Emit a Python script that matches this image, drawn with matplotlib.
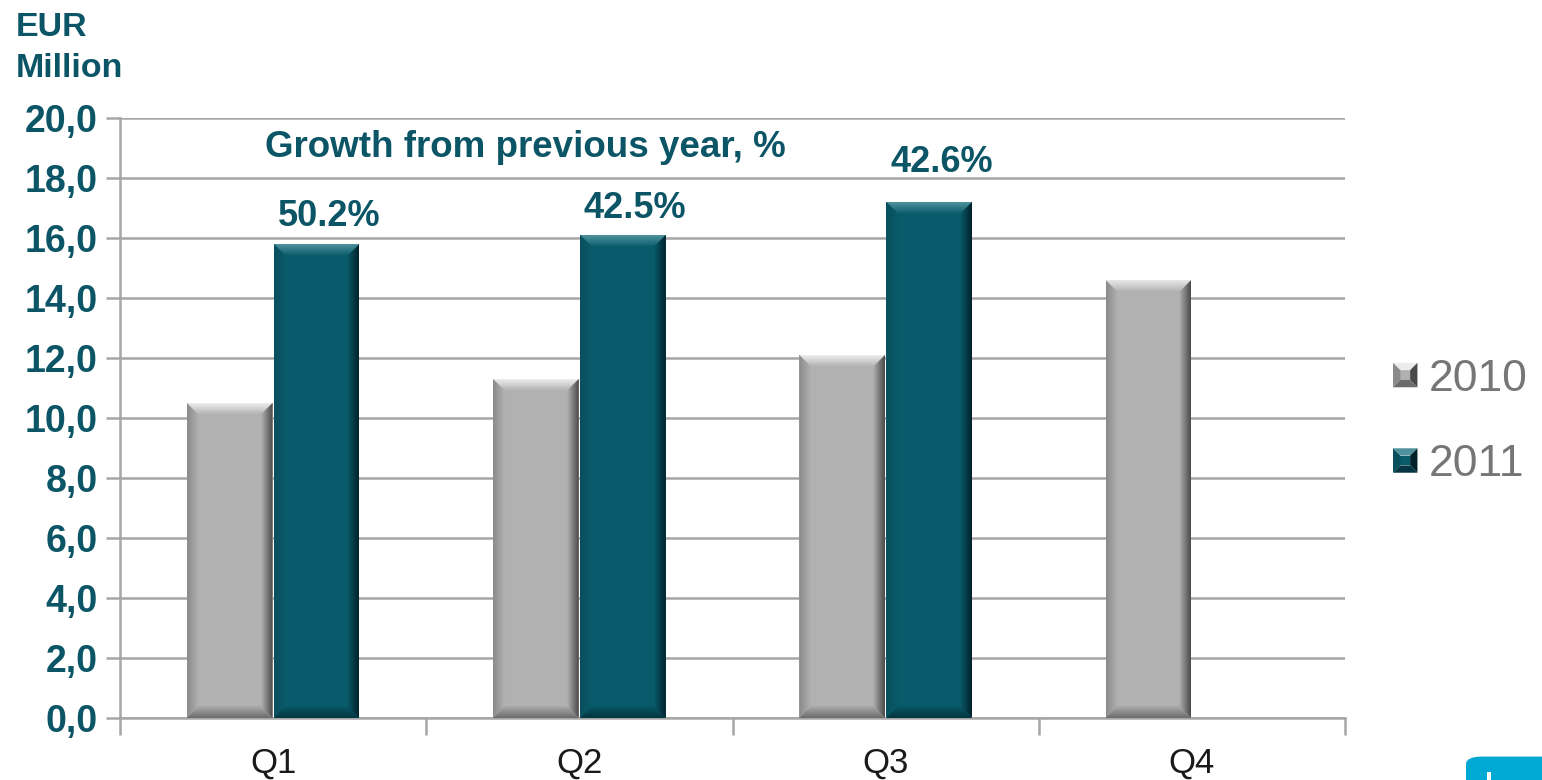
import matplotlib
matplotlib.use("Agg")
import numpy as np
import matplotlib.pyplot as plt
from matplotlib.colors import to_rgb
from matplotlib.patches import Polygon, Rectangle, FancyBboxPatch
from matplotlib.legend_handler import HandlerBase

plt.rcParams["font.family"] = ["Liberation Sans", "DejaVu Sans"]

quarters = ["Q1", "Q2", "Q3", "Q4"]
sales_2010 = [10.5, 11.3, 12.1, 14.6]
sales_2011 = [15.8, 16.1, 17.2]
growth_labels = ["50.2%", "42.5%", "42.6%"]
y_ticks = [0, 2, 4, 6, 8, 10, 12, 14, 16, 18, 20]

TEAL_TEXT = "#0b5566"
# face, top, left, right, bottom (outer edge colours of the bevel)
GRAY = ("#b1b1b1", "#ececec", "#8a8a8a", "#4a4a4a", "#6c6c6c")
TEAL = ("#095a6a", "#4f929e", "#0a4f5d", "#01222a", "#033641")

BAR_W = 0.28
OFFSET = 0.142
BEVEL_PX = 12


def bevel_polys(x0, y0, w, h, bx, by):
    x1, y1 = x0 + w, y0 + h
    ix0, ix1, iy0, iy1 = x0 + bx, x1 - bx, y0 + by, y1 - by
    return [
        [(ix0, iy0), (ix1, iy0), (ix1, iy1), (ix0, iy1)],
        [(x0, y1), (x1, y1), (ix1, iy1), (ix0, iy1)],
        [(x0, y0), (ix0, iy0), (ix0, iy1), (x0, y1)],
        [(x1, y0), (x1, y1), (ix1, iy1), (ix1, iy0)],
        [(x0, y0), (x1, y0), (ix1, iy0), (ix0, iy0)],
    ]


def ramp(c_from, c_to, n=32):
    a, b = np.array(to_rgb(c_from)), np.array(to_rgb(c_to))
    t = np.linspace(0, 1, n)[:, None]
    return a + (b - a) * t


def shaded_bevel(ax, x0, y0, w, h, bx, by, colors, z=3):
    face = colors[0]
    polys = bevel_polys(x0, y0, w, h, bx, by)
    ax.add_patch(Polygon(polys[0], closed=True, facecolor=face, edgecolor="none", zorder=z))
    x1, y1 = x0 + w, y0 + h
    sides = [
        # (polygon, edge colour, extent, orientation)
        (polys[1], colors[1], (x0, x1, y1 - by, y1), "up"),
        (polys[2], colors[2], (x0, x0 + bx, y0, y1), "left"),
        (polys[3], colors[3], (x1 - bx, x1, y0, y1), "right"),
        (polys[4], colors[4], (x0, x1, y0, y0 + by), "down"),
    ]
    for pts, edge, ext, orient in sides:
        if orient == "up":
            img = ramp(face, edge)[:, None, :]
        elif orient == "down":
            img = ramp(edge, face)[:, None, :]
        elif orient == "left":
            img = ramp(edge, face)[None, :, :]
        else:
            img = ramp(face, edge)[None, :, :]
        clip = Polygon(pts, closed=True, facecolor="none", edgecolor="none",
                       transform=ax.transData)
        im = ax.imshow(img, extent=ext, origin="lower", aspect="auto",
                       interpolation="bilinear", zorder=z)
        im.set_clip_path(clip)


def draw_bars(ax, xs, heights, colors, bx, by):
    bars = ax.bar(xs, heights, width=BAR_W, color=colors[0], zorder=2, linewidth=0)
    for b in bars:
        shaded_bevel(ax, b.get_x(), 0, b.get_width(), b.get_height(), bx, by, colors)
    return bars


class BevelHandler(HandlerBase):
    def __init__(self, colors):
        super().__init__()
        self.colors = colors

    def create_artists(self, legend, orig_handle, xdescent, ydescent, width, height,
                       fontsize, trans):
        s = min(width, height)
        x0 = -xdescent + (width - s) / 2
        y0 = -ydescent + (height - s) / 2
        arts = []
        for pts, c in zip(bevel_polys(x0, y0, s, s, s * 0.3, s * 0.3), self.colors):
            arts.append(Polygon(pts, closed=True, facecolor=c, edgecolor="none",
                                transform=trans))
        return arts


fig = plt.figure(figsize=(15.42, 7.8), dpi=100)
ax = fig.add_axes([120 / 1542, 62 / 780, 1225 / 1542, 600 / 780])

# bevel size in data units
bx = BEVEL_PX / (1225 / 4)
by = BEVEL_PX / (600 / 20)

xs = list(range(len(quarters)))
draw_bars(ax, [x - OFFSET for x in xs], sales_2010, GRAY, bx, by)
bars11 = draw_bars(ax, [x + OFFSET for x in xs[:len(sales_2011)]], sales_2011, TEAL, bx, by)
ax.set_xlim(-0.5, 3.5)
ax.set_ylim(0, 20)

label_gap = [0.93, 0.87, 1.33]
for b, txt, g in zip(bars11, growth_labels, label_gap):
    ax.text(b.get_x() + b.get_width() / 2 + 0.04, b.get_height() + g, txt, ha="center",
            va="center", fontsize=26, fontweight="bold", color=TEAL_TEXT)

ax.text(0.824, 19.03, "Growth from previous year, %", ha="center", va="center",
        fontsize=26.5, fontweight="bold", color=TEAL_TEXT)

# axes, grid and ticks
ax.set_yticks(y_ticks)
ax.set_yticklabels([f"{v:.1f}".replace(".", ",") for v in y_ticks])
ax.yaxis.grid(True, color="#a6a6a6", linewidth=1.8, zorder=0)
ax.set_axisbelow(True)
for side in ("top", "right"):
    ax.spines[side].set_visible(False)
for side in ("left", "bottom"):
    ax.spines[side].set_color("#a6a6a6")
    ax.spines[side].set_linewidth(1.8)
ax.tick_params(axis="y", length=10, width=1.8, color="#a6a6a6", pad=6,
               labelsize=27, labelcolor=TEAL_TEXT)
for lbl in ax.get_yticklabels():
    lbl.set_fontweight("bold")

ax.set_xticks([x - 0.5 for x in range(len(quarters) + 1)])
ax.set_xticklabels([])
ax.set_xticks(xs, minor=True)
ax.set_xticklabels(quarters, minor=True)
ax.tick_params(axis="x", which="major", length=12, width=1.8, color="#a6a6a6")
ax.tick_params(axis="x", which="minor", length=0, pad=21, labelsize=25,
               labelcolor="#1a1a1a")

fig.text(16 / 1542, 1 - 12 / 780, "EUR\nMillion", ha="left", va="top", fontsize=24.5,
         fontweight="bold", color=TEAL_TEXT, linespacing=1.4)

# legend with bevelled keys
h10 = Rectangle((0, 0), 1, 1)
h11 = Rectangle((0, 0), 1, 1)
leg = fig.legend([h10, h11], ["2010", "2011"],
                 handler_map={h10: BevelHandler(GRAY), h11: BevelHandler(TEAL)},
                 loc="center left", bbox_to_anchor=(1393 / 1542, 1 - 422 / 780),
                 frameon=False, fontsize=32, labelspacing=1.0, handlelength=0.55,
                 handleheight=0.55, handletextpad=0.25, borderpad=0, borderaxespad=0)
for t in leg.get_texts():
    t.set_color("#767676")

# corner badge
fig.patches.append(FancyBboxPatch((1466 / 1542, -0.02), 0.1, 0.05,
                                  boxstyle="round,pad=0,rounding_size=0.01",
                                  transform=fig.transFigure, facecolor="#00a9d4",
                                  edgecolor="none"))
fig.patches.append(Rectangle((1487 / 1542, 0), 4 / 1542, 8 / 780,
                             transform=fig.transFigure, facecolor="white",
                             edgecolor="none"))

fig.savefig("out.png", dpi=100)
